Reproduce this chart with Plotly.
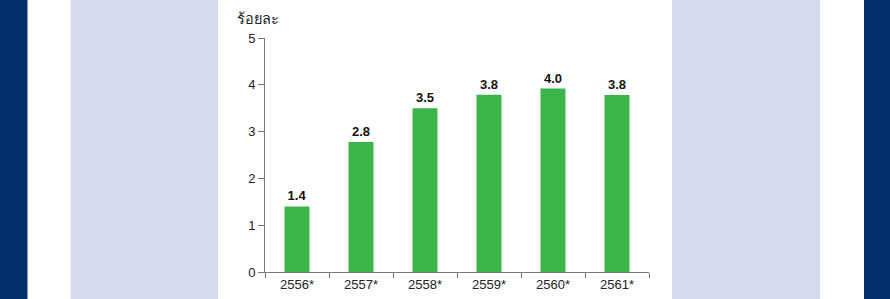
import plotly.graph_objects as go

categories = ["2556*", "2557*", "2558*", "2559*", "2560*", "2561*"]
values = [1.40, 2.78, 3.50, 3.79, 3.92, 3.78]
labels = ["1.4", "2.8", "3.5", "3.8", "4.0", "3.8"]
y_ticks = [0, 1, 2, 3, 4, 5]
unit_label = "ร้อยละ"

W, H = 890, 299
fig = go.Figure()
fig.add_trace(go.Bar(
    x=categories, y=values, text=labels, textposition="outside",
    textfont=dict(family="Liberation Sans, Arial, sans-serif", size=13, color="#111111"),
    texttemplate="<b>%{text}</b>",
    marker=dict(color="#3bb54a", line=dict(width=0)),
    width=0.39, cliponaxis=False, hoverinfo="skip",
))

def px_rect(x0, x1, color):
    fig.add_shape(type="rect", xref="paper", yref="paper",
                  x0=(x0 - 265) / 384, x1=(x1 - 265) / 384,
                  y0=(272 - H - 2) / 234, y1=(272 + 2) / 234,
                  fillcolor=color, line=dict(width=0), layer="below")

px_rect(-2, 27.5, "#032f6e")
px_rect(70.5, 218, "#d5daf0")
px_rect(672, 820, "#d5daf0")
px_rect(864, 892, "#032f6e")

fig.add_annotation(text=unit_label, xref="paper", yref="paper",
                   x=(257.5 - 265) / 384, y=(272 - 19) / 234, xanchor="center", yanchor="middle",
                   showarrow=False,
                   font=dict(family="Liberation Sans, Arial, sans-serif", size=14.5, color="#222222"))

fig.update_layout(
    width=W, height=H, margin=dict(l=265, r=241, t=38, b=27, autoexpand=False),
    paper_bgcolor="white", plot_bgcolor="rgba(0,0,0,0)",
    showlegend=False,
    font=dict(family="Liberation Sans, Arial, sans-serif", size=13, color="#222222"),
    xaxis=dict(type="category", tickson="boundaries", ticks="outside", ticklen=5,
               tickcolor="#777777", showline=True, linecolor="#777777", linewidth=1,
               showgrid=False, zeroline=False, fixedrange=True, automargin=False),
    yaxis=dict(range=[0, 5], tickvals=y_ticks, ticks="outside", ticklen=6,
               tickcolor="#777777", showline=True, linecolor="#777777", linewidth=1,
               showgrid=False, zeroline=False, fixedrange=True, automargin=False),
)
fig.write_html("out.html")
